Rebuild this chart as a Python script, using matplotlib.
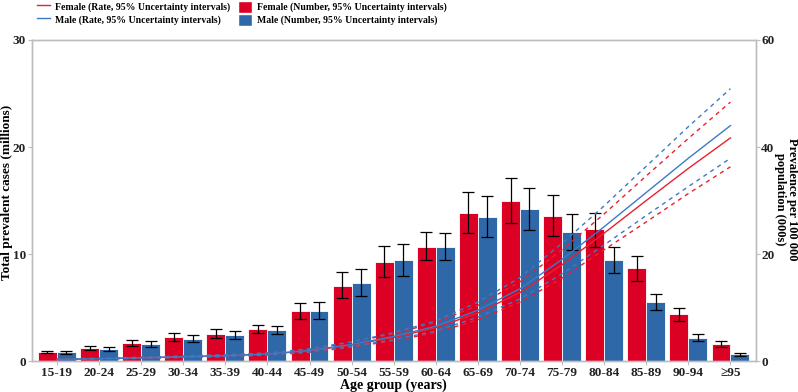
import matplotlib
matplotlib.use("Agg")
import matplotlib.pyplot as plt
import numpy as np
from matplotlib.lines import Line2D
from matplotlib.patches import Patch

plt.rcParams['font.family'] = ['Liberation Serif', 'DejaVu Serif']
plt.rcParams['font.weight'] = 'bold'

age_groups = ["15-19", "20-24", "25-29", "30-34", "35-39", "40-44", "45-49", "50-54",
              "55-59", "60-64", "65-69", "70-74", "75-79", "80-84", "85-89", "90-94", "≥95"]

# Number of prevalent cases (millions)
female_num = [0.87, 1.21, 1.65, 2.21, 2.52, 2.99, 4.64, 7.00, 9.22, 10.68, 13.80, 14.98, 13.58, 12.30, 8.66, 4.36, 1.56]
female_lo  = [0.72, 1.00, 1.40, 1.87, 2.18, 2.59, 3.90, 5.86, 7.88, 9.40, 11.93, 12.93, 11.65, 10.63, 7.48, 3.74, 1.34]
female_hi  = [0.98, 1.43, 1.93, 2.59, 2.96, 3.39, 5.39, 8.29, 10.78, 12.08, 15.79, 17.13, 15.49, 13.83, 9.84, 4.92, 1.90]
male_num   = [0.81, 1.12, 1.55, 2.06, 2.40, 2.90, 4.67, 7.26, 9.41, 10.62, 13.43, 14.18, 12.03, 9.44, 5.51, 2.15, 0.62]
male_lo    = [0.66, 0.90, 1.32, 1.75, 2.03, 2.52, 3.90, 6.07, 7.97, 9.40, 11.59, 12.24, 10.35, 8.20, 4.74, 1.84, 0.50]
male_hi    = [0.95, 1.34, 1.83, 2.43, 2.83, 3.30, 5.48, 8.63, 10.90, 11.93, 15.45, 16.20, 13.74, 10.63, 6.23, 2.49, 0.78]

# Prevalence per 100 000 population (thousands)
female_rate    = [0.3, 0.45, 0.6, 0.8, 1.0, 1.3, 1.9, 3.0, 4.4, 6.2, 9.0, 12.8, 18.0, 23.9, 30.0, 36.0, 41.7]
female_rate_lo = [0.25, 0.38, 0.5, 0.68, 0.85, 1.1, 1.6, 2.6, 3.8, 5.3, 7.7, 11.0, 15.5, 20.8, 26.0, 31.3, 36.3]
female_rate_hi = [0.36, 0.53, 0.7, 0.93, 1.17, 1.5, 2.2, 3.5, 5.1, 7.2, 10.4, 14.8, 20.8, 27.5, 34.6, 41.6, 48.4]
male_rate      = [0.3, 0.45, 0.6, 0.8, 1.0, 1.3, 2.0, 3.1, 4.6, 6.5, 9.5, 13.5, 19.0, 25.1, 31.5, 37.9, 44.0]
male_rate_lo   = [0.25, 0.38, 0.5, 0.68, 0.85, 1.1, 1.7, 2.7, 4.0, 5.6, 8.2, 11.6, 16.3, 21.7, 27.2, 32.6, 37.9]
male_rate_hi   = [0.36, 0.53, 0.7, 0.93, 1.17, 1.5, 2.3, 3.6, 5.3, 7.5, 11.0, 15.6, 22.0, 29.0, 36.4, 43.8, 50.9]

RED = "#DC0024"
BLUE = "#2E68A8"
RED_L = "#E8212F"
BLUE_L = "#3A7BC4"
GRAY = "#BDBDBD"

fig = plt.figure(figsize=(7.98, 3.92), dpi=100)
ax = fig.add_axes([0.0397, 0.079, 0.9073, 0.819])
ax2 = ax.twinx()

x = np.arange(1, len(age_groups) + 1)
w = 0.45

ax.bar(x - w / 2, female_num, width=w, color=RED, edgecolor="white", linewidth=0.6, zorder=2)
ax.bar(x + w / 2, male_num, width=w, color=BLUE, edgecolor="white", linewidth=0.6, zorder=2)
fe = [np.array(female_num) - np.array(female_lo), np.array(female_hi) - np.array(female_num)]
me = [np.array(male_num) - np.array(male_lo), np.array(male_hi) - np.array(male_num)]
ax.errorbar(x - w / 2, female_num, yerr=fe, fmt='none', ecolor='black', elinewidth=0.9, capsize=4.5, capthick=0.9, zorder=3)
ax.errorbar(x + w / 2, male_num, yerr=me, fmt='none', ecolor='black', elinewidth=0.9, capsize=4.5, capthick=0.9, zorder=3)

ax.set_xlim(0.4, 17.6)
ax.set_ylim(0, 30)
ax.set_yticks([0, 10, 20, 30])
ax.set_xticks(x)
ax.set_xticklabels(age_groups)

ax2.set_zorder(ax.get_zorder() + 1)
ax2.patch.set_visible(False)
dash = (0, (3, 3))
ax2.plot(x, female_rate, color=RED_L, lw=1.0)
ax2.plot(x, female_rate_lo, color=RED_L, lw=1.0, ls=dash)
ax2.plot(x, female_rate_hi, color=RED_L, lw=1.0, ls=dash)
ax2.plot(x, male_rate, color=BLUE_L, lw=1.0)
ax2.plot(x, male_rate_lo, color=BLUE_L, lw=1.0, ls=dash)
ax2.plot(x, male_rate_hi, color=BLUE_L, lw=1.0, ls=dash)
ax2.set_ylim(0, 60)
ax2.set_yticks([0, 20, 40, 60])

for a in (ax, ax2):
    for s in a.spines.values():
        s.set_color(GRAY)
        s.set_linewidth(1.0)
    a.tick_params(colors=GRAY, length=3, width=0.8, labelcolor="#222222", labelsize=9.5, pad=1)

ax.set_xlabel("Age group (years)", fontsize=10, fontweight='bold', labelpad=0)
fig.text(7 / 798, 1 - 192 / 392, "Total prevalent cases (millions)", rotation=90,
         ha='center', va='center', fontsize=9.5, fontweight='bold')
fig.text(786 / 798, 1 - 199 / 392, "Prevalence per 100 000\npopulation (000s)", rotation=270,
         ha='center', va='center', fontsize=9, fontweight='bold', linespacing=0.95,
         multialignment='center')

handles = [Line2D([], [], color=RED_L, lw=1.0),
           Line2D([], [], color=BLUE_L, lw=1.0),
           Patch(facecolor=RED, edgecolor='white'),
           Patch(facecolor=BLUE, edgecolor='white')]
labels = ["Female (Rate, 95% Uncertainty intervals)",
          "Male (Rate, 95% Uncertainty intervals)",
          "Female (Number, 95% Uncertainty intervals)",
          "Male (Number, 95% Uncertainty intervals)"]
fig.legend(handles, labels, ncol=2, loc='upper left', bbox_to_anchor=(0.035, 1.02), frameon=False,
           prop={'size': 7, 'weight': 'bold'}, handlelength=1.4, handleheight=1.5,
           columnspacing=0.8, labelspacing=0.1, handletextpad=0.5)

fig.savefig("out.png", dpi=100)
